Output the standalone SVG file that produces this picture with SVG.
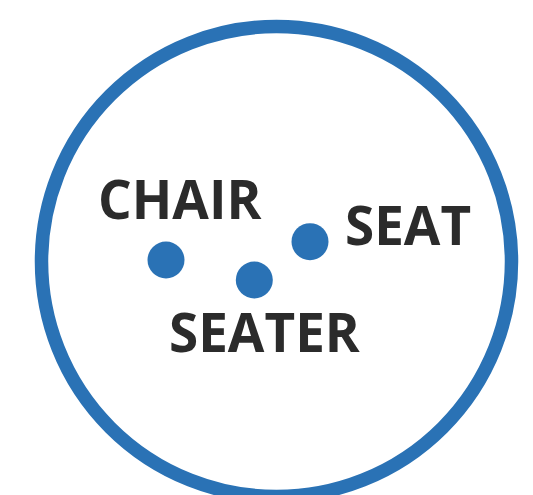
<svg xmlns="http://www.w3.org/2000/svg" width="533" height="495" viewBox="0 0 533 495">
<style>
.lbl{font-family:"Open Sans","Liberation Sans",sans-serif;font-weight:700;font-size:53px;fill:#2b2b2b}
.dot{fill:#2a72b5}
</style>
<rect width="533" height="495" fill="#ffffff"/>
<circle cx="276.5" cy="261.5" r="235" fill="none" stroke="#2a72b5" stroke-width="13.5"/>
<g id="chair">
<circle class="dot" cx="166" cy="260" r="18.5"/>
<text class="lbl" x="98" y="219">CHAIR</text>
</g>
<g id="seater">
<circle class="dot" cx="254.3" cy="280" r="18.5"/>
<text class="lbl" x="169" y="352">SEATER</text>
</g>
<g id="seat">
<circle class="dot" cx="310" cy="241.7" r="18.5"/>
<text class="lbl" x="345" y="245">SEAT</text>
</g>
<g id="connectors"/>
</svg>
